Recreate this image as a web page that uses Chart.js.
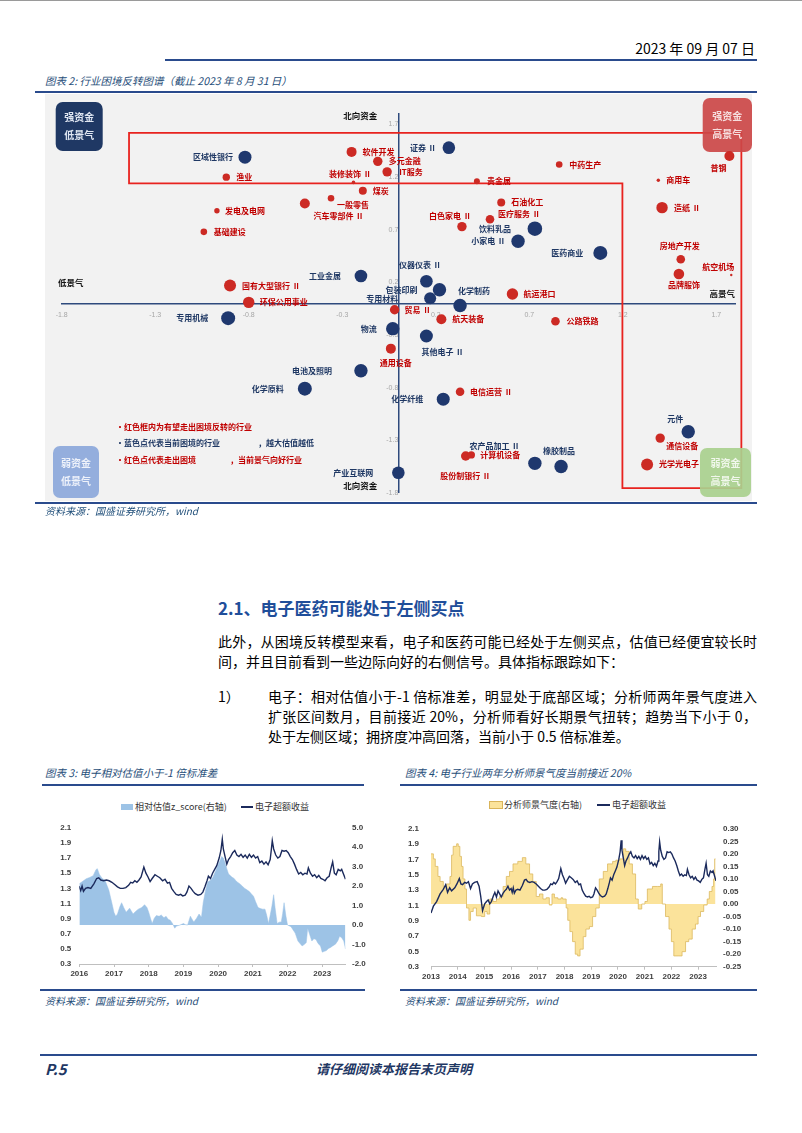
<!DOCTYPE html>
<html>
<head>
<meta charset="utf-8">
<script src="https://cdn.jsdelivr.net/npm/chart.js@4.4.0/dist/chart.umd.min.js"></script>
<style>
  body { margin: 0; width: 802px; height: 1133px; background: #fff; position: relative; overflow: hidden;
         font-family: "Noto Sans CJK SC", "Liberation Sans", sans-serif; color: #000; }
  .abs { position: absolute; white-space: nowrap; }
  .rule { position: absolute; background: #2a4b8d; height: 2px; }
  .cap { font-style: italic; color: #1f4e79; font-size: 10.5px; }
  .src { font-style: italic; color: #1f4e79; font-size: 10px; }
  .para { position: absolute; font-size: 14px; line-height: 20px; text-align: justify; text-align-last: justify; white-space: nowrap; }
  .leg { font-size: 9px; color: #333; }
</style>
</head>
<body>
<div class="abs" style="left:0;top:0;width:802px;height:1px;background:#9a9a9a"></div>
<div class="abs" style="right:47px;top:38px;font-size:14px;">2023 年 09 月 07 日</div>
<div class="rule" style="left:165px;top:59px;width:592px"></div>

<div class="abs cap" style="left:45px;top:73px;">图表 2:  行业困境反转图谱（截止 2023 年 8 月 31 日）</div>
<div class="rule" style="left:35px;top:91px;width:722px"></div>
<div class="abs" style="left:45px;top:94px;width:707px;height:407px;background:#f2f2f2"></div>
<canvas id="fig2" class="abs" width="712" height="408" style="left:40px;top:95px"></canvas>
<div class="rule" style="left:35px;top:502px;width:722px;height:1.5px"></div>
<div class="abs src" style="left:45px;top:503px;">资料来源：国盛证券研究所，wind</div>

<div class="abs" style="left:218px;top:595px;font-size:17px;font-weight:bold;color:#1f4e9a;">2.1、电子医药可能处于左侧买点</div>
<div class="para" style="left:218px;top:631px;width:539px;">此外，从困境反转模型来看，电子和医药可能已经处于左侧买点，估值已经便宜较长时</div>
<div class="para" style="left:218px;top:651px;text-align-last:left;">间，并且目前看到一些边际向好的右侧信号。具体指标跟踪如下：</div>
<div class="para" style="left:218px;top:686px;text-align-last:left;">1）</div>
<div class="para" style="left:268px;top:686px;width:489px;">电子：相对估值小于-1 倍标准差，明显处于底部区域；分析师两年景气度进入</div>
<div class="para" style="left:268px;top:706px;width:489px;">扩张区间数月，目前接近 20%，分析师看好长期景气扭转；趋势当下小于 0，</div>
<div class="para" style="left:268px;top:726px;text-align-last:left;">处于左侧区域；拥挤度冲高回落，当前小于 0.5 倍标准差。</div>

<div class="abs cap" style="left:45px;top:765px;">图表 3:  电子相对估值小于-1 倍标准差</div>
<div class="rule" style="left:42px;top:784px;width:322px"></div>
<div class="abs" style="left:121px;top:804px;width:12px;height:6px;background:#9dc3e6"></div>
<div class="abs leg" style="left:135px;top:800px;">相对估值z_score(右轴)</div>
<div class="abs" style="left:241px;top:806px;width:12px;height:1.5px;background:#1b2a5c"></div>
<div class="abs leg" style="left:255px;top:800px;">电子超额收益</div>
<canvas id="fig3" class="abs" width="330" height="170" style="left:40px;top:815px"></canvas>
<div class="rule" style="left:40px;top:989px;width:325px;height:1.5px"></div>
<div class="abs src" style="left:45px;top:993px;">资料来源：国盛证券研究所，wind</div>

<div class="abs cap" style="left:405px;top:765px;">图表 4:  电子行业两年分析师景气度当前接近 20%</div>
<div class="rule" style="left:400px;top:784px;width:357px"></div>
<div class="abs" style="left:489px;top:801px;width:12px;height:6px;background:#fbe39b;border:1px solid #d9b45a"></div>
<div class="abs leg" style="left:504px;top:798px;">分析师景气度(右轴)</div>
<div class="abs" style="left:597px;top:804px;width:13px;height:1.5px;background:#1b2a5c"></div>
<div class="abs leg" style="left:612px;top:798px;">电子超额收益</div>
<canvas id="fig4" class="abs" width="345" height="176" style="left:400px;top:812px"></canvas>
<div class="rule" style="left:400px;top:989px;width:357px;height:1.5px"></div>
<div class="abs src" style="left:405px;top:993px;">资料来源：国盛证券研究所，wind</div>

<div class="rule" style="left:40px;top:1054px;width:717px"></div>
<div class="abs" style="left:45px;top:1058px;font-size:15px;font-weight:bold;font-style:italic;color:#1f3864;">P.5</div>
<div class="abs" style="left:316px;top:1059px;font-size:13px;font-weight:bold;font-style:italic;color:#1f3864;">请仔细阅读本报告末页声明</div>

<script>
// ---- 图表2 行业困境反转图谱 ----
const industries = ['区域性银行','渔业','软件开发','多元金融','IT服务','装修装饰  II','煤炭','一般零售','汽车零部件  II','证券  II',
  '贵金属','石油化工','医疗服务  II','白色家电  II','饮料乳品','小家电  II','医药商业','中药生产','普钢','商用车',
  '造纸  II','房地产开发','品牌服饰','航空机场','发电及电网','基础建设','工业金属','国有大型银行  II','环保公用事业','专用机械',
  '仪器仪表  II','包装印刷','专用材料','化学制药','航运港口','贸易  II','航天装备','物流','其他电子  II','通用设备',
  '公路铁路','电池及照明','化学原料','化学纤维','电信运营  II','产业互联网','股份制银行  II','计算机设备','农产品加工  II','橡胶制品',
  '元件','通信设备','光学光电子'];
const heatScore = [-0.82,-0.92,-0.25,-0.11,-0.06,-0.24,-0.19,-0.36,-0.50,0.27,
  0.42,0.55,0.49,0.34,0.73,0.64,1.08,0.86,1.77,1.39,
  1.41,1.51,1.50,1.78,-0.97,-1.04,-0.20,-0.90,-0.80,-0.91,
  0.15,0.22,0.17,0.33,0.61,-0.02,0.23,-0.03,0.15,-0.04,
  0.84,-0.20,-0.50,0.24,0.33,0.00,0.36,0.39,0.73,0.87,
  1.55,1.40,1.33];
const fundScore = [1.39,1.20,1.44,1.35,1.25,1.15,1.07,1.00,0.95,1.48,
  1.16,0.96,0.80,0.73,0.71,0.59,0.48,1.32,1.40,1.17,
  0.91,0.42,0.28,0.27,0.88,0.68,0.26,0.17,0.01,-0.14,
  0.21,0.13,0.05,-0.02,0.09,-0.06,-0.15,-0.24,-0.31,-0.43,
  -0.17,-0.64,-0.81,-0.91,-0.84,-1.61,-1.45,-1.44,-1.52,-1.55,
  -1.22,-1.28,-1.53];
const bubbleSize = [6.5,3.7,5,4.7,4.7,1.8,4,3.3,5,6.3,
  3,4,4.3,4.7,7.3,6.7,7,3.3,5,1.7,
  5.7,4.3,5.3,1.2,2.7,3.3,6.3,6,5.7,7,
  6.3,6.7,6,6.7,5.7,4.7,5,6.7,6.5,5,
  4.3,6.7,7,6.5,4.3,6.3,4.7,3.7,6.7,6.7,
  6.7,4.7,6];
// out = 走出困境（红）, in = 当前困境（蓝）
const pointGroup = ['in','out','out','out','out','out','out','out','out','in',
  'out','out','out','out','in','in','in','out','out','out',
  'out','out','out','out','out','out','in','out','out','in',
  'in','in','in','in','out','out','out','in','in','out',
  'out','in','in','in','out','in','out','out','in','in',
  'in','out','out'];
const axisTicks = [-1.8,-1.3,-0.8,-0.3,0.2,0.7,1.2,1.7];

// label placement next to each bubble: [dx, dy, align]
const labelPlace = [[-12,0,'right'],[10,0,'left'],[11,0,'left'],[11,0,'left'],[12,0,'left'],[-4,-8,'center'],[10,0,'left'],[6,7,'left'],[33,13,'center'],[-14,0,'right'],
  [10,0,'left'],[10,0,'left'],[8,-5,'left'],[8,-11,'right'],[-24,0,'right'],[-14,0,'right'],[-17,0,'right'],[10,0,'left'],[-11,12,'center'],[8,0,'left'],
  [12,0,'left'],[-1,-13,'center'],[5,11,'center'],[-13,-8,'center'],[8,0,'left'],[10,0,'left'],[-20,0,'right'],[12,0,'left'],[11,0,'left'],[-20,0,'right'],
  [-7,-16,'center'],[-22,0,'right'],[-32,1,'right'],[14,-15,'center'],[11,0,'left'],[10,0,'left'],[11,0,'left'],[-16,0,'right'],[-5,16,'left'],[5,14,'center'],
  [11,0,'left'],[-29,0,'right'],[-21,0,'right'],[-20,0,'right'],[10,0,'left'],[-25,0,'right'],[-1,20,'center'],[9,0,'left'],[-41,-17,'center'],[-2,-16,'center'],
  [-13,-13,'center'],[6,8,'left'],[12,0,'left']];

const RED = '#cc2a24', NAVY = '#1f386e', RED_TXT = '#c00000', NAVY_TXT = '#1f3864';
const CJK = '"Noto Sans CJK SC", sans-serif';

const mapPlugin = {
  id: 'mapDecor',
  beforeDatasetsDraw(chart) {
    const {ctx, scales: {x, y}} = chart;
    ctx.save();
    // red frame (inverted L)
    const frame = [[-1.44,1.62],[1.834,1.62],[1.834,-1.755],[1.198,-1.755],[1.198,1.14],[-1.44,1.14]];
    ctx.strokeStyle = '#e8231f';
    ctx.lineWidth = 1.8;
    ctx.beginPath();
    frame.forEach(([vx, vy], i) => {
      const px = x.getPixelForValue(vx), py = y.getPixelForValue(vy);
      i ? ctx.lineTo(px, py) : ctx.moveTo(px, py);
    });
    ctx.closePath();
    ctx.stroke();

    // quadrant boxes
    const boxes = [
      [15.7, 7, 47, 49, '#1f3864', '#dfe6f2', ['强资金', '低景气']],
      [662.7, 3, 49.3, 54, 'rgba(204,72,72,0.92)', '#f6dede', ['强资金', '高景气']],
      [13, 351, 46, 52, 'rgba(142,170,219,0.95)', '#eef2fa', ['弱资金', '低景气']],
      [660, 353, 51, 49, 'rgba(169,208,142,0.92)', '#f1f7ec', ['弱资金', '高景气']]
    ];
    boxes.forEach(([bx, by, bw, bh, fill, tc, lines]) => {
      ctx.fillStyle = fill;
      ctx.beginPath();
      ctx.roundRect(bx, by, bw, bh, 7);
      ctx.fill();
      ctx.fillStyle = tc;
      ctx.font = 'bold 10px ' + CJK;
      ctx.textAlign = 'center';
      ctx.textBaseline = 'middle';
      ctx.fillText(lines[0], bx + bw / 2, by + bh / 2 - 9);
      ctx.fillText(lines[1], bx + bw / 2, by + bh / 2 + 9);
    });

    // axis names
    ctx.fillStyle = '#111';
    ctx.font = 'bold 8.5px ' + CJK;
    const x0 = x.getPixelForValue(0), y0 = y.getPixelForValue(0);
    ctx.textAlign = 'center';
    ctx.fillText('北向资金', x0 - 38, 21);
    ctx.fillText('北向资金', x0 - 38, 391);
    ctx.textAlign = 'left';
    ctx.fillText('低景气', 18, y0 - 21);
    ctx.textAlign = 'right';
    ctx.fillText('高景气', 695, y0 - 10);

    // notes
    ctx.font = 'bold 8px ' + CJK;
    ctx.textAlign = 'left';
    ctx.fillStyle = RED_TXT;
    ctx.fillText('•红色框内为有望走出困境反转的行业', 76, 332);
    ctx.fillStyle = NAVY_TXT;
    ctx.fillText('•蓝色点代表当前困境的行业', 76, 348);
    ctx.fillText('，越大估值越低', 218, 348);
    ctx.fillStyle = RED_TXT;
    ctx.fillText('•红色点代表走出困境', 76, 365);
    ctx.fillText('，当前景气向好行业', 190, 365);
    ctx.restore();
  },
  afterDatasetsDraw(chart) {
    const {ctx} = chart;
    const meta = chart.getDatasetMeta(0);
    ctx.save();
    ctx.font = 'bold 8px ' + CJK;
    ctx.textBaseline = 'middle';
    meta.data.forEach((pt, i) => {
      const [dx, dy, align] = labelPlace[i];
      ctx.fillStyle = pointGroup[i] === 'out' ? RED_TXT : NAVY_TXT;
      ctx.textAlign = align;
      ctx.fillText(industries[i], pt.x + dx, pt.y + dy);
    });
    ctx.restore();
  }
};

const mapTicks = {color: '#a6a6a6', font: {size: 7, family: 'Liberation Sans'}, callback: v => v.toFixed(1)};

new Chart(document.getElementById('fig2'), {
  type: 'bubble',
  data: {
    datasets: [{
      data: industries.map((n, i) => ({x: heatScore[i], y: fundScore[i], r: bubbleSize[i]})),
      backgroundColor: pointGroup.map(g => g === 'out' ? RED : NAVY),
      borderWidth: 0
    }]
  },
  options: {
    responsive: false,
    animation: false,
    events: [],
    layout: {padding: {left: 21.7, right: 17, top: 19, bottom: 7}},
    plugins: {legend: {display: false}, tooltip: {enabled: false}},
    scales: {
      x: {
        type: 'linear', min: -1.8, max: 1.8, position: {y: 0},
        grid: {display: false, drawTicks: false},
        border: {color: '#2e4a7d', width: 1.5},
        ticks: Object.assign({padding: 7, autoSkip: false}, mapTicks),
        afterBuildTicks: s => { s.ticks = axisTicks.map(v => ({value: v})); }
      },
      y: {
        type: 'linear', min: -1.8, max: 1.8, position: {x: 0},
        grid: {display: false, drawTicks: false},
        border: {color: '#2e4a7d', width: 1.5},
        ticks: Object.assign({padding: 6, autoSkip: false}, mapTicks),
        afterBuildTicks: s => { s.ticks = axisTicks.map(v => ({value: v})); }
      }
    }
  },
  plugins: [mapPlugin]
});

// ---- 电子超额收益（图表3、图表4共用） ----
const excessT = [2013.00,2013.09,2013.21,2013.34,2013.46,2013.55,2013.62,2013.70,2013.77,2013.89,2013.97,2014.06,2014.12,2014.18,2014.26,2014.33,2014.40,2014.48,2014.55,2014.63,
  2014.73,2014.80,2014.86,2014.93,2015.01,2015.08,2015.14,2015.20,2015.26,2015.33,2015.39,2015.45,2015.51,2015.57,2015.63,2015.70,2015.76,2015.82,2015.88,2015.94,
  2016.00,2016.04,2016.08,2016.12,2016.18,2016.25,2016.33,2016.42,2016.50,2016.56,2016.62,2016.70,2016.78,2016.86,2016.94,2017.02,2017.10,2017.18,2017.26,2017.34,
  2017.42,2017.48,2017.54,2017.60,2017.66,2017.72,2017.78,2017.86,2017.92,2017.98,2018.04,2018.10,2018.18,2018.25,2018.32,2018.40,2018.47,2018.54,2018.60,2018.66,
  2018.72,2018.79,2018.86,2018.92,2018.98,2019.05,2019.10,2019.16,2019.22,2019.28,2019.34,2019.42,2019.50,2019.56,2019.62,2019.68,2019.72,2019.78,2019.84,2019.90,
  2019.96,2020.03,2020.08,2020.12,2020.15,2020.20,2020.25,2020.30,2020.36,2020.42,2020.48,2020.54,2020.60,2020.66,2020.72,2020.78,2020.84,2020.90,2020.96,2021.02,
  2021.08,2021.14,2021.20,2021.26,2021.32,2021.38,2021.44,2021.50,2021.53,2021.56,2021.60,2021.66,2021.72,2021.78,2021.84,2021.90,2021.96,2022.02,2022.08,2022.14,
  2022.20,2022.26,2022.32,2022.38,2022.44,2022.50,2022.56,2022.60,2022.66,2022.72,2022.78,2022.84,2022.90,2022.96,2023.02,2023.08,2023.14,2023.20,2023.26,2023.30,
  2023.35,2023.40,2023.46,2023.52,2023.56,2023.62,2023.67];
const excessV = [1.00,1.09,1.15,1.25,1.31,1.37,1.27,1.33,1.29,1.33,1.38,1.45,1.38,1.37,1.40,1.39,1.41,1.32,1.38,1.40,
  1.41,1.35,1.22,1.03,1.12,1.15,1.17,1.12,1.15,1.22,1.27,1.21,1.29,1.25,1.21,1.26,1.29,1.31,1.35,1.30,
  1.32,1.27,1.33,1.26,1.30,1.31,1.30,1.36,1.43,1.44,1.41,1.40,1.41,1.40,1.38,1.35,1.32,1.30,1.30,1.31,
  1.34,1.38,1.37,1.40,1.38,1.41,1.45,1.58,1.50,1.45,1.39,1.43,1.48,1.46,1.44,1.40,1.42,1.37,1.38,1.30,
  1.26,1.22,1.21,1.22,1.20,1.21,1.25,1.33,1.30,1.26,1.23,1.21,1.22,1.25,1.32,1.40,1.46,1.43,1.50,1.55,
  1.60,1.70,1.80,1.95,1.82,1.72,1.62,1.68,1.72,1.77,1.80,1.74,1.72,1.75,1.71,1.74,1.70,1.75,1.71,1.74,
  1.70,1.72,1.64,1.66,1.62,1.65,1.61,1.68,1.80,1.93,1.82,1.74,1.70,1.72,1.80,1.79,1.80,1.77,1.72,1.68,
  1.62,1.55,1.49,1.51,1.48,1.50,1.49,1.57,1.50,1.46,1.48,1.44,1.47,1.43,1.42,1.40,1.44,1.46,1.58,1.65,
  1.50,1.48,1.55,1.53,1.55,1.48,1.42];

// ---- 图表3 相对估值z_score ----
const zScoreT = [2016.00,2016.10,2016.20,2016.30,2016.40,2016.48,2016.52,2016.58,2016.66,2016.74,2016.85,2016.93,2017.00,2017.05,2017.10,2017.17,2017.22,2017.28,2017.35,2017.45,
  2017.55,2017.62,2017.70,2017.80,2017.88,2017.95,2018.00,2018.06,2018.10,2018.16,2018.22,2018.30,2018.36,2018.44,2018.50,2018.56,2018.62,2018.68,2018.75,2018.80,
  2018.90,2019.00,2019.06,2019.12,2019.20,2019.25,2019.30,2019.38,2019.45,2019.52,2019.57,2019.64,2019.70,2019.78,2019.85,2019.92,2020.00,2020.05,2020.10,2020.15,
  2020.20,2020.25,2020.30,2020.35,2020.40,2020.46,2020.50,2020.56,2020.62,2020.70,2020.76,2020.84,2020.90,2020.96,2021.02,2021.08,2021.15,2021.22,2021.28,2021.35,
  2021.40,2021.45,2021.50,2021.55,2021.60,2021.64,2021.70,2021.76,2021.82,2021.86,2021.90,2021.95,2022.00,2022.10,2022.16,2022.22,2022.30,2022.36,2022.42,2022.48,
  2022.54,2022.58,2022.64,2022.70,2022.76,2022.82,2022.88,2022.95,2023.00,2023.06,2023.12,2023.18,2023.24,2023.30,2023.38,2023.45,2023.50,2023.56,2023.62,2023.67];
const zScoreV = [2.13,2.25,2.38,2.45,2.54,2.85,2.90,2.60,2.40,2.30,1.80,1.20,0.65,0.45,0.57,0.95,1.15,0.90,0.66,0.87,
  0.57,0.70,0.82,0.90,1.05,0.90,0.66,0.30,0.08,0.35,0.49,0.45,0.52,0.38,0.45,0.30,0.25,0.10,-0.16,-0.05,
  0.00,0.08,0.02,0.00,0.46,0.30,0.16,0.35,0.57,0.40,1.15,1.80,2.21,2.30,2.46,2.75,3.11,3.30,3.52,3.45,
  3.20,2.90,2.62,2.55,2.46,2.40,2.30,2.20,2.13,2.00,1.89,1.80,1.72,1.60,1.48,1.20,0.90,0.85,0.82,0.82,
  0.50,0.08,0.50,0.98,1.56,0.90,0.08,0.15,0.16,0.60,1.15,0.50,0.00,-0.08,-0.25,-0.41,-0.82,-0.95,-1.07,-1.00,
  -0.90,-0.16,-0.50,-0.82,-0.70,-0.74,-0.95,-1.07,-1.39,-1.35,-1.31,-1.20,-1.15,-1.07,-0.98,-0.80,-0.57,-0.65,-0.82,-1.23];
const fig3Years = [2016,2017,2018,2019,2020,2021,2022,2023];

// ---- 图表4 分析师景气度 ----
const sentimentT = [2013.00,2013.09,2013.16,2013.26,2013.34,2013.46,2013.58,2013.71,2013.77,2013.83,2013.96,2014.02,2014.08,2014.14,2014.20,2014.27,2014.33,2014.42,2014.48,2014.58,
  2014.70,2014.89,2015.01,2015.10,2015.20,2015.32,2015.45,2015.57,2015.70,2015.82,2015.94,2016.07,2016.25,2016.42,2016.55,2016.69,2016.81,2016.94,2017.06,2017.19,
  2017.31,2017.43,2017.53,2017.62,2017.75,2017.87,2017.93,2018.06,2018.12,2018.20,2018.30,2018.40,2018.49,2018.58,2018.70,2018.80,2018.93,2019.05,2019.17,2019.30,
  2019.45,2019.61,2019.80,2019.92,2020.07,2020.20,2020.29,2020.42,2020.54,2020.66,2020.76,2020.89,2021.01,2021.10,2021.29,2021.47,2021.60,2021.66,2021.78,2021.91,
  2022.00,2022.09,2022.28,2022.40,2022.53,2022.65,2022.78,2022.90,2023.00,2023.09,2023.21,2023.34,2023.42,2023.52,2023.58,2023.62,2023.65];
const sentimentV = [0.20,0.18,0.15,0.11,0.09,0.07,0.08,0.11,0.195,0.23,0.24,0.23,0.19,0.15,0.10,0.06,-0.016,-0.065,-0.03,-0.016,
  -0.047,-0.05,-0.03,-0.04,0.02,0.01,0.02,0.03,0.07,0.11,0.13,0.16,0.17,0.185,0.16,0.12,0.09,0.03,0.04,0.02,
  0.025,-0.004,0.04,0.025,0.02,0.025,0.02,-0.016,-0.065,-0.11,-0.15,-0.20,-0.207,-0.18,-0.13,-0.10,-0.09,-0.05,-0.016,0.10,
  0.13,0.16,0.17,0.175,0.18,0.22,0.21,0.16,0.12,0.02,-0.02,0.00,0.01,0.06,0.07,0.07,0.08,0.00,-0.05,-0.10,
  -0.15,-0.207,-0.207,-0.19,-0.15,-0.14,-0.10,-0.08,-0.05,-0.03,-0.004,0.02,0.05,0.07,0.10,0.18,0.18];
const fig4Years = [2013,2014,2015,2016,2017,2018,2019,2020,2021,2022,2023];

const LINE = '#1b2a5c';
const tickFont = {size: 8, weight: 'bold', family: 'Liberation Sans'};
const toXY = (ts, vs) => ts.map((t, i) => ({x: t, y: vs[i]}));

function smallChart(id, cfg) {
  new Chart(document.getElementById(id), {
    type: 'line',
    data: {
      datasets: [
        {data: toXY(excessT, excessV), borderColor: LINE, borderWidth: 1.4, pointRadius: 0, fill: false, yAxisID: 'y'},
        Object.assign({pointRadius: 0, fill: 'origin', yAxisID: 'y2'}, cfg.area)
      ]
    },
    options: {
      responsive: false,
      animation: false,
      events: [],
      layout: {padding: {top: cfg.top}},
      plugins: {legend: {display: false}, tooltip: {enabled: false}},
      scales: {
        x: {
          type: 'linear', min: cfg.years[0], max: 2023.67,
          afterBuildTicks: s => { s.ticks = cfg.years.map(v => ({value: v})); },
          ticks: {padding: 2, color: '#404040', font: tickFont, maxRotation: 0, autoSkip: false, callback: v => String(v)},
          grid: {display: true, drawOnChartArea: false, tickLength: 3, color: '#bfbfbf'},
          border: {color: '#bfbfbf'},
          afterFit: s => { s.height = cfg.xh; }
        },
        y: {
          position: 'left', min: 0.3, max: 2.1,
          ticks: {stepSize: 0.2, padding: cfg.lp, autoSkip: false, color: '#404040', font: tickFont, callback: v => v.toFixed(1)},
          grid: {display: false, drawTicks: false}, border: {display: false},
          afterFit: s => { s.width = cfg.lw; }
        },
        y2: {
          position: 'right', min: cfg.rmin, max: cfg.rmax,
          ticks: {stepSize: cfg.rstep, padding: cfg.rp, autoSkip: false, color: '#404040', font: tickFont, callback: v => v.toFixed(cfg.rdec)},
          grid: {display: false, drawTicks: false}, border: {display: false},
          afterFit: s => { s.width = cfg.rw; }
        }
      }
    }
  });
}

smallChart('fig3', {
  years: fig3Years, top: 6.7, xh: 21, lw: 39.3, rw: 24.5, lp: 8, rp: 6.5,
  rmin: -2, rmax: 5, rstep: 1, rdec: 1,
  area: {data: toXY(zScoreT, zScoreV), backgroundColor: '#9dc3e6', borderColor: '#9dc3e6', borderWidth: 0.5}
});

smallChart('fig4', {
  years: fig4Years, top: 6.3, xh: 21.3, lw: 31, rw: 29, lp: 12, rp: 7,
  rmin: -0.25, rmax: 0.30, rstep: 0.05, rdec: 2,
  area: {data: toXY(sentimentT, sentimentV), backgroundColor: '#fbe39b', borderColor: '#dcb95f', borderWidth: 0.8, stepped: true}
});
</script>
</body>
</html>
